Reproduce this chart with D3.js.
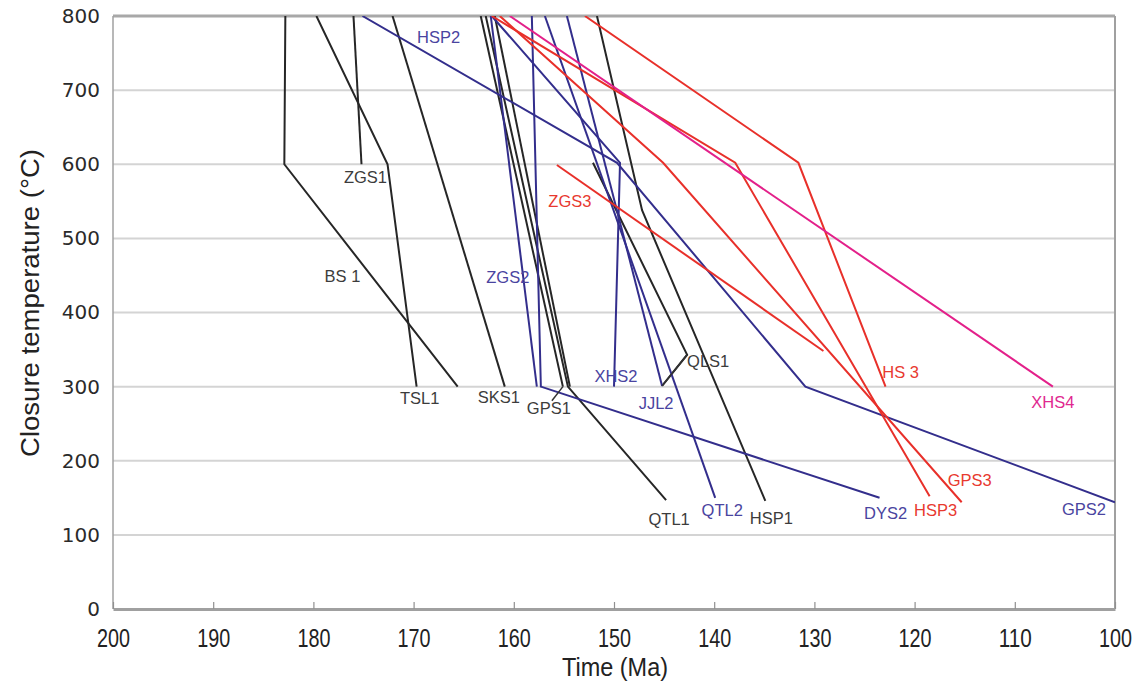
<!DOCTYPE html>
<html>
<head>
<meta charset="utf-8">
<script src="https://cdn.jsdelivr.net/npm/d3@7"></script>
<style>
  html, body { margin: 0; padding: 0; background: #fff; }
  svg { display: block; }
</style>
</head>
<body>
<svg id="chart" width="1146" height="686"></svg>
<script>
// Cooling paths: [time (Ma), closure temperature (°C)]
const BS1  = [[182.8, 800], [182.9, 600], [165.6, 300]];
const ZGS1 = [[176.0, 800], [175.2, 600]];
const TSL1 = [[179.7, 800], [172.6, 600], [169.7, 300]];
const SKS1 = [[172.1, 800], [160.9, 300]];
const GPS1 = [[163.3, 800], [155.1, 300]];
const GPS1b = [[161.9, 800], [154.4, 300]];
const QTL1 = [[162.8, 800], [154.6, 300], [144.8, 147]];
const QLS1 = [[152.1, 602], [142.7, 343], [145.2, 301]];
const HSP1 = [[151.7, 800], [147.2, 538], [134.9, 146]];

const HSP2 = [[175.1, 800], [149.7, 602], [130.9, 300], [100.0, 144]];
const XHS2 = [[162.2, 800], [149.4, 602], [150.0, 300]];
const ZGS2 = [[162.3, 800], [157.7, 300]];
const DYS2 = [[158.2, 800], [157.9, 633], [157.3, 300], [123.5, 150]];
const JJL2 = [[154.7, 800], [145.2, 301]];
const QTL2 = [[156.9, 800], [139.9, 150]];

const HS3  = [[152.9, 800], [131.6, 602], [122.9, 300]];
const HSP3 = [[162.2, 800], [137.9, 602], [118.5, 152]];
const GPS3 = [[161.4, 800], [145.1, 602], [115.3, 144]];
const ZGS3 = [[155.7, 599], [129.1, 348]];

const XHS4 = [[160.4, 800], [106.2, 300]];

// Which group each path belongs to
const blackPaths   = [BS1, ZGS1, TSL1, SKS1, GPS1, GPS1b, QTL1, QLS1, HSP1];
const bluePaths    = [HSP2, XHS2, ZGS2, DYS2, JJL2, QTL2];
const redPaths     = [HS3, HSP3, GPS3, ZGS3];
const magentaPaths = [XHS4];

// Sample labels: text and anchor in data units [time, temperature]
const blackLabels = [
  ["ZGS1", 174.8, 583], ["BS 1", 177.1, 449], ["TSL1", 169.4, 284],
  ["SKS1", 161.5, 286], ["GPS1", 156.5, 271], ["QLS1", 140.6, 334.7],
  ["QTL1", 144.5, 122], ["HSP1", 134.3, 123]
];
const blueLabels = [
  ["HSP2", 167.5, 771], ["ZGS2", 160.6, 448], ["XHS2", 149.8, 315],
  ["JJL2", 145.8, 278], ["QTL2", 139.2, 134], ["DYS2", 122.9, 130],
  ["GPS2", 103.1, 135]
];
const redLabels = [
  ["ZGS3", 154.4, 551], ["HS 3", 121.4, 320], ["GPS3", 114.5, 174],
  ["HSP3", 117.9, 134]
];
const magentaLabels = [["XHS4", 106.2, 279]];

// Leader lines from labels to their sample points
const leaders = [
  [[156.2, 281], [155.1, 300]],
  [[142.7, 343], [145.2, 301]]
];

const xTicks = [200, 190, 180, 170, 160, 150, 140, 130, 120, 110, 100];
const yTicks = [0, 100, 200, 300, 400, 500, 600, 700, 800];

const svg = d3.select("#chart");
const plot = { left: 113, right: 1115, top: 16, bottom: 609 };

const x = d3.scaleLinear().domain([200, 100]).range([plot.left, plot.right]);
const y = d3.scaleLinear().domain([0, 800]).range([plot.bottom, plot.top]);

// Horizontal grid
svg.append("g")
  .selectAll("line")
  .data(yTicks.filter(v => v > 0 && v < 800))
  .join("line")
  .attr("x1", plot.left).attr("x2", plot.right)
  .attr("y1", d => y(d)).attr("y2", d => y(d))
  .attr("stroke", "#d4d4d4").attr("stroke-width", 2);

// Frame
svg.append("line").attr("x1", plot.left).attr("x2", plot.right)
  .attr("y1", plot.top).attr("y2", plot.top)
  .attr("stroke", "#a8a8a8").attr("stroke-width", 3);
svg.append("line").attr("x1", plot.right).attr("x2", plot.right)
  .attr("y1", plot.top).attr("y2", plot.bottom)
  .attr("stroke", "#a0a0a0").attr("stroke-width", 2);
svg.append("line").attr("x1", plot.left).attr("x2", plot.left)
  .attr("y1", plot.top).attr("y2", plot.bottom)
  .attr("stroke", "#a0a0a0").attr("stroke-width", 1.5);

// Bottom axis with inward ticks
const xAxis = svg.append("g")
  .attr("transform", `translate(0,${plot.bottom})`)
  .call(d3.axisBottom(x).tickValues(xTicks).tickSize(-7).tickSizeOuter(0).tickFormat(d3.format("d")));
xAxis.select(".domain").attr("stroke", "#a0a0a0").attr("stroke-width", 3);
xAxis.selectAll(".tick line").attr("stroke", "#909090").attr("stroke-width", 1.2);
xAxis.selectAll(".tick text")
  .attr("y", 20)
  .attr("fill", "#222")
  .style("font-family", "'Liberation Sans', Arial, sans-serif")
  .style("font-size", "25px")
  .attr("textLength", 33)
  .attr("lengthAdjust", "spacingAndGlyphs");

// Left axis labels
const yAxis = svg.append("g")
  .attr("transform", `translate(${plot.left},0)`)
  .call(d3.axisLeft(y).tickValues(yTicks).tickSize(0).tickPadding(13).tickFormat(d3.format("d")));
yAxis.select(".domain").remove();
yAxis.selectAll(".tick text")
  .attr("fill", "#2a2a2a")
  .style("font-family", "'DejaVu Sans', sans-serif")
  .style("font-size", "20px");

// Axis titles
svg.append("text")
  .attr("x", 615).attr("y", 676)
  .attr("text-anchor", "middle")
  .attr("fill", "#222")
  .attr("textLength", 106).attr("lengthAdjust", "spacingAndGlyphs")
  .style("font-family", "'Liberation Sans', Arial, sans-serif")
  .style("font-size", "25px")
  .text("Time (Ma)");
svg.append("text")
  .attr("transform", "translate(39,303) rotate(-90)")
  .attr("text-anchor", "middle")
  .attr("fill", "#222")
  .attr("textLength", 308).attr("lengthAdjust", "spacingAndGlyphs")
  .style("font-family", "'Liberation Sans', Arial, sans-serif")
  .style("font-size", "25px")
  .text("Closure temperature (°C)");

// Cooling paths
const line = d3.line().x(d => x(d[0])).y(d => y(d[1]));
svg.append("defs").append("clipPath").attr("id", "plot-clip")
  .append("rect")
  .attr("x", plot.left).attr("y", plot.top)
  .attr("width", plot.right - plot.left).attr("height", plot.bottom - plot.top);

const paths = svg.append("g").attr("clip-path", "url(#plot-clip)");
function drawPaths(list, color) {
  paths.append("g")
    .selectAll("path")
    .data(list)
    .join("path")
    .attr("d", line)
    .attr("fill", "none")
    .attr("stroke", color)
    .attr("stroke-width", 2)
    .attr("stroke-linejoin", "miter");
}
drawPaths(blackPaths, "#262626");
drawPaths(bluePaths, "#332e8c");
drawPaths(redPaths, "#e8302a");
drawPaths(magentaPaths, "#e3208a");

paths.append("g")
  .selectAll("path")
  .data(leaders)
  .join("path")
  .attr("d", line)
  .attr("fill", "none")
  .attr("stroke", "#333")
  .attr("stroke-width", 1.5);

// Sample labels
function drawLabels(list, color) {
  svg.append("g")
    .selectAll("text")
    .data(list)
    .join("text")
    .attr("x", d => x(d[1]))
    .attr("y", d => y(d[2]))
    .attr("text-anchor", "middle")
    .attr("dominant-baseline", "central")
    .attr("fill", color)
    .style("font-family", "'Liberation Sans', Arial, sans-serif")
    .style("font-size", "16.5px")
    .text(d => d[0]);
}
drawLabels(blackLabels, "#3c3c3c");
drawLabels(blueLabels, "#4a44a0");
drawLabels(redLabels, "#e8392f");
drawLabels(magentaLabels, "#e0288f");
</script>
</body>
</html>
